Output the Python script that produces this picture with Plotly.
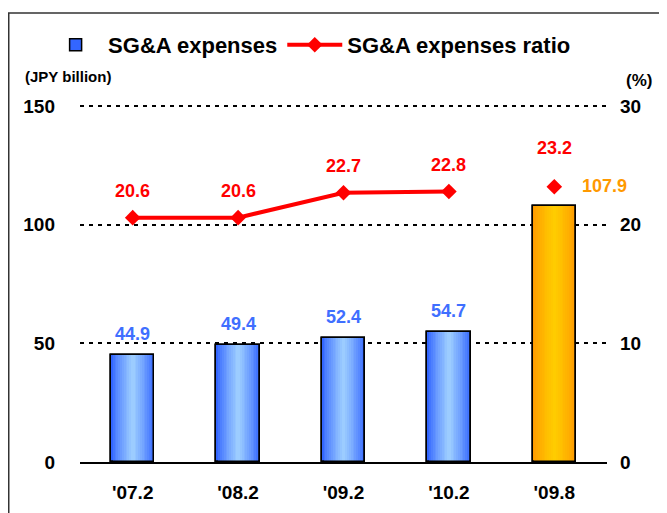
import plotly.graph_objects as go

# ---- data ----
categories = ["'07.2", "'08.2", "'09.2", "'10.2", "'09.8"]
sga_expenses = [44.9, 49.4, 52.4, 54.7, 107.9]
sga_ratio = [20.6, 20.6, 22.7, 22.8, 23.2]
ratio_on_line = [True, True, True, True, False]
left_ticks = [0, 50, 100, 150]
right_ticks = [0, 10, 20, 30]

# ---- styles ----
FONT = "Liberation Sans"
BLUE_EDGE, BLUE_MID = (0x33, 0x66, 0xFF), (0x9C, 0xCC, 0xFF)
ORANGE_EDGE, ORANGE_MID = (0xFF, 0x99, 0x00), (0xFF, 0xCC, 0x00)
BAR_W = 0.41
N_LAYERS = 12
is_highlight = [False, False, False, False, True]
Y_TOP_PAD = 1.006  # small headroom so plotly keeps the top gridline


def mix(a, b, t):
    return "rgb(%d,%d,%d)" % tuple(round(a[i] + (b[i] - a[i]) * t) for i in range(3))


fig = go.Figure()

# gradient bars as overlaid layers
for k in range(N_LAYERS):
    t = (k / (N_LAYERS - 1)) ** 0.8
    frac = 1 - k / N_LAYERS
    colors = [mix(ORANGE_EDGE, ORANGE_MID, t) if h else mix(BLUE_EDGE, BLUE_MID, t)
              for h in is_highlight]
    fig.add_trace(go.Bar(
        x=categories, y=sga_expenses, width=BAR_W * frac,
        marker=dict(color=colors, line=dict(width=1.5 if k == 0 else 0, color="black")),
        name="SG&A expenses", showlegend=(k == 0), legendrank=1,
        hoverinfo="skip" if k else None, yaxis="y",
    ))
# outline on top
fig.add_trace(go.Bar(
    x=categories, y=sga_expenses, width=BAR_W,
    marker=dict(color="rgba(0,0,0,0)", line=dict(width=1.5, color="black")),
    showlegend=False, hoverinfo="skip", yaxis="y",
))

line_x = [c for c, on in zip(categories, ratio_on_line) if on]
line_y = [v for v, on in zip(sga_ratio, ratio_on_line) if on]
pt_x = [c for c, on in zip(categories, ratio_on_line) if not on]
pt_y = [v for v, on in zip(sga_ratio, ratio_on_line) if not on]

fig.add_trace(go.Scatter(
    x=line_x, y=line_y, mode="lines+markers", yaxis="y2",
    line=dict(color="#FF0000", width=4),
    marker=dict(symbol="diamond", size=12, color="#FF0000"),
    name="SG&A expenses ratio", legendrank=2,
))
fig.add_trace(go.Scatter(
    x=pt_x, y=pt_y, mode="markers", yaxis="y2",
    marker=dict(symbol="diamond", size=12, color="#FF0000"),
    showlegend=False,
))

annotations = []
for c, v, h in zip(categories, sga_expenses, is_highlight):
    if h:
        annotations.append(dict(x=c, y=v, xref="x", yref="y", text=f"{v:.1f}",
                                showarrow=False, xanchor="center", yanchor="bottom",
                                xshift=50, yshift=8,
                                font=dict(family=FONT, size=18, color="#FF9900", weight="bold")))
    else:
        annotations.append(dict(x=c, y=v, xref="x", yref="y", text=f"{v:.1f}",
                                showarrow=False, xanchor="center", yanchor="bottom",
                                yshift=9,
                                font=dict(family=FONT, size=18, color="#3F6FFF", weight="bold")))
for c, v, on in zip(categories, sga_ratio, ratio_on_line):
    annotations.append(dict(x=c, y=v, xref="x", yref="y2", text=f"{v:.1f}",
                            showarrow=False, xanchor="center", yanchor="bottom",
                            yshift=15 if on else 27,
                            font=dict(family=FONT, size=18, color="#FF0000", weight="bold")))
annotations.append(dict(x=-0.108, y=1.078, xref="paper", yref="paper", text="(JPY billion)",
                        showarrow=False, xanchor="left", yanchor="middle",
                        font=dict(family=FONT, size=15, color="black", weight="bold")))
annotations.append(dict(x=1.06, y=1.067, xref="paper", yref="paper", text="(%)",
                        showarrow=False, xanchor="center", yanchor="middle",
                        font=dict(family=FONT, size=17, color="black", weight="bold")))

# the page body adds an 8px offset; the figure is sized so that the plot area
# lands where the reference has it
fig.update_layout(
    width=659, height=505,
    margin=dict(l=72, r=60, t=96, b=51, autoexpand=False),
    paper_bgcolor="white", plot_bgcolor="white",
    barmode="overlay", bargap=0,
    font=dict(family=FONT, color="black"),
    showlegend=True,
    legend=dict(orientation="h", x=-0.07, y=1.165, xanchor="left", yanchor="middle",
                font=dict(family=FONT, size=22, color="black", weight="bold"),
                itemwidth=55, bgcolor="rgba(0,0,0,0)", traceorder="normal"),
    xaxis=dict(categoryorder="array", categoryarray=categories,
               range=[-0.5, len(categories) - 0.5],
               showline=True, linecolor="black", linewidth=2,
               showgrid=False, ticks="", ticklabelstandoff=12,
               tickfont=dict(family=FONT, size=19, weight="bold")),
    yaxis=dict(range=[0, left_ticks[-1] * Y_TOP_PAD], tickvals=left_ticks,
               showline=False, zeroline=False,
               showgrid=True, gridcolor="black", gridwidth=2, griddash="4px,5px",
               ticks="", ticklabelstandoff=24,
               tickfont=dict(family=FONT, size=19, weight="bold")),
    yaxis2=dict(range=[0, right_ticks[-1] * Y_TOP_PAD], tickvals=right_ticks,
                overlaying="y", side="right",
                showgrid=False, zeroline=False, showline=False, ticks="",
                ticklabelstandoff=12,
                tickfont=dict(family=FONT, size=19, weight="bold")),
    annotations=annotations,
    shapes=[dict(type="rect", xref="paper", yref="paper",
                 x0=-0.1352, x1=1.3, y0=-0.4, y1=1.254,
                 line=dict(color="#333333", width=1.5), layer="below")],
)

fig.write_html("out.html")
